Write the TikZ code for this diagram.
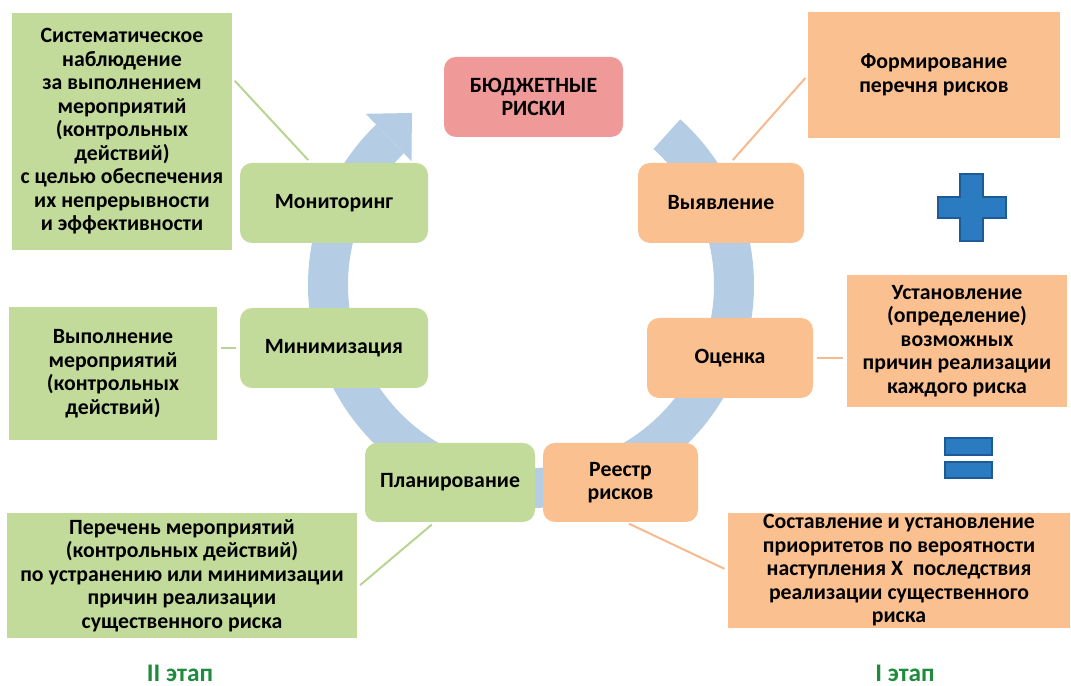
\documentclass[tikz,border=0pt]{standalone}
\usepackage{fontspec}
\setmainfont{Carlito}
\newcommand{\boxfont}{\bfseries\fontsize{15.5}{16.7}\selectfont}
\newcommand{\stagefont}{\bfseries\fontsize{18}{20}\selectfont}

\begin{document}
\begin{tikzpicture}[
  green_note/.style={fill=green_box_color, align=center, inner sep=0cm, outer sep=0cm, font=\boxfont},
  green_step/.style={green_note, rounded corners=0.3cm},
  orange_note/.style={fill=orange_box_color, align=center, inner sep=0cm, outer sep=0cm, font=\boxfont},
  orange_step/.style={orange_note, rounded corners=0.3cm},
  green_link/.style={draw=green_line_color, line width=0.05cm, shorten <=0.1cm, shorten >=0.1cm},
  orange_link/.style={draw=orange_line_color, line width=0.05cm, shorten <=0.1cm, shorten >=0.1cm},
  sign_shape/.style={fill=sign_color, draw=sign_border_color, line width=0.03cm},
  stage_label/.style={text=stage_color, font=\stagefont, anchor=base, inner sep=0cm}
]
\definecolor{green_box_color}{RGB}{194,219,155}
\definecolor{orange_box_color}{RGB}{250,192,144}
\definecolor{title_color}{RGB}{239,153,152}
\definecolor{band_color}{RGB}{181,205,228}
\definecolor{green_line_color}{RGB}{184,212,145}
\definecolor{orange_line_color}{RGB}{247,186,142}
\definecolor{sign_color}{RGB}{42,123,192}
\definecolor{sign_border_color}{RGB}{30,90,150}
\definecolor{stage_color}{RGB}{30,140,60}

\useasboundingbox (0,0) rectangle (26.775,17.15);

\fill[band_color, shift={(13.275,10.025)}] (48:5.575) arc[start angle=48, end angle=-226, radius=5.575] -- (-226:4.575) arc[start angle=-226, end angle=48, radius=4.575] -- cycle;
\fill[band_color, shift={(13.275,10.025)}] (134:5.95) -- (124.7:5.23) -- (134:4.3) -- cycle;

\node[fill=title_color, rounded corners=0.3cm, align=center, font=\boxfont, minimum width=4.475cm, minimum height=2.0cm] (budget_risks) at (13.3375,14.725) {БЮДЖЕТНЫЕ\\РИСКИ};

\node[green_note, minimum width=5.5cm, minimum height=5.925cm] (monitoring_note) at (3.05,13.8625) {Систематическое\\наблюдение\\за выполнением\\мероприятий\\(контрольных\\действий)\\с целью обеспечения\\их непрерывности\\и эффективности};
\node[green_step, minimum width=4.7cm, minimum height=2.0cm] (monitoring) at (8.35,12.075) {Мониторинг};
\node[green_step, minimum width=4.7cm, minimum height=2.0cm] (minimization) at (8.35,8.45) {Минимизация};
\node[green_note, minimum width=5.2cm, minimum height=3.325cm] (minimization_note) at (2.825,7.8125) {Выполнение\\мероприятий\\(контрольных\\действий)};
\node[green_note, minimum width=8.75cm, minimum height=3.125cm] (planning_note) at (4.55,2.7625) {Перечень мероприятий\\(контрольных действий)\\по устранению или минимизации\\причин реализации\\существенного риска};
\node[green_step, minimum width=4.25cm, minimum height=1.975cm] (planning) at (11.25,5.0875) {Планирование};

\node[orange_step, minimum width=3.875cm, minimum height=1.975cm] (register) at (15.5125,5.0875) {Реестр\\рисков};
\node[orange_step, minimum width=4.15cm, minimum height=2.0cm] (detection) at (18.025,12.075) {Выявление};
\node[orange_step, minimum width=4.15cm, minimum height=2.0cm] (assessment) at (18.25,8.2) {Оценка};
\node[orange_note, minimum width=6.3cm, minimum height=3.15cm] (detection_note) at (23.35,15.275) {Формирование\\перечня рисков};
\node[orange_note, minimum width=5.5cm, minimum height=3.3cm] (assessment_note) at (23.925,8.625) {Установление\\(определение)\\возможных\\причин реализации\\каждого риска};
\node[orange_note, minimum width=8.55cm, minimum height=2.875cm] (register_note) at (22.475,2.8875) {Составление и установление\\приоритетов по вероятности\\наступления Х~~последствия\\реализации существенного\\риска};

\draw[green_link] (monitoring_note.26) -- (monitoring.120);
\draw[green_link] (minimization.west) -- (minimization.west -| minimization_note.east);
\draw[green_link] (planning_note.-4) -- (planning.249);
\draw[orange_link] (detection_note.west) -- (detection.77);
\draw[orange_link] (assessment.east) -- (assessment.east -| assessment_note.west);
\draw[orange_link] (register.-83) -- (register_note.west);

\draw[sign_shape] (24.0,12.8) -- (24.575,12.8) -- (24.575,12.225) -- (25.15,12.225) -- (25.15,11.7) -- (24.575,11.7) -- (24.575,11.125) -- (24.0,11.125) -- (24.0,11.7) -- (23.45,11.7) -- (23.45,12.225) -- (24.0,12.225) -- cycle;
\draw[sign_shape] (23.625,5.775) rectangle (24.8,6.2);
\draw[sign_shape] (23.625,5.2) rectangle (24.8,5.6);

\node[stage_label] (stage_two) at (4.5,0.12) {II этап};
\node[stage_label] (stage_one) at (22.625,0.12) {I этап};

\end{tikzpicture}
\end{document}
